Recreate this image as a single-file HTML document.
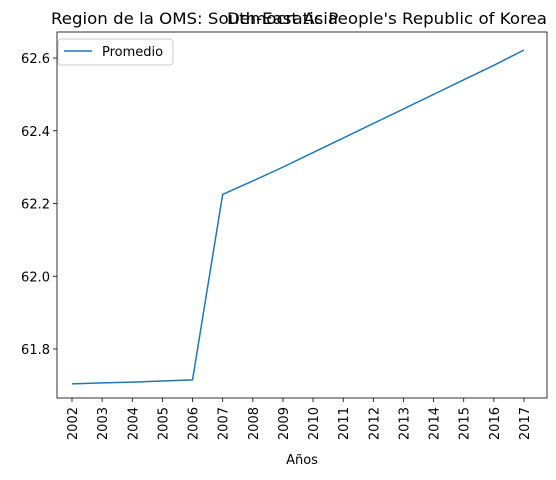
<!DOCTYPE html>
<html><head><meta charset="utf-8"><style>
body{margin:0;background:#fff;font-family:"DejaVu Sans","Liberation Sans",sans-serif}
svg text{font-family:"DejaVu Sans","Liberation Sans",sans-serif;fill:#000}
</style></head><body>
<svg id="chart" width="556" height="476" xmlns="http://www.w3.org/2000/svg">
<text x="51" y="24" font-size="16" textLength="287" lengthAdjust="spacingAndGlyphs">Region de la OMS: South-East Asia</text>
<text x="547" y="24" font-size="16" text-anchor="end" textLength="320" lengthAdjust="spacingAndGlyphs">Democratic People's Republic of Korea</text>
<g id="axes"></g>
<rect x="57" y="32" width="490" height="366" fill="none" stroke="#000" stroke-width="0.8"/>
<text x="302" y="464" font-size="13" text-anchor="middle">Años</text>
<g>
<rect x="58" y="39" width="115" height="26" rx="3" fill="#fff" stroke="#ccc"/>
<line x1="64" y1="51" x2="92" y2="51" stroke="#1f77b4" stroke-width="1.5"/>
<text x="102" y="56" font-size="13">Promedio</text>
</g>
</svg>
<script>
const years=[2002,2003,2004,2005,2006,2007,2008,2009,2010,2011,2012,2013,2014,2015,2016,2017];
const promedio=[61.704,61.707,61.709,61.712,61.715,62.225,62.262,62.300,62.340,62.380,62.420,62.460,62.500,62.540,62.580,62.622];
const yTicks=[61.8,62.0,62.2,62.4,62.6];
const ns="http://www.w3.org/2000/svg";
const g=document.getElementById('axes');
const xs=i=>72+i*(524-72)/15;
const ys=v=>349-(v-61.8)*(349-58)/0.8;
function mk(t,a){const e=document.createElementNS(ns,t);for(const k in a)e.setAttribute(k,a[k]);g.appendChild(e);return e;}
years.forEach((y,i)=>{
 const x=xs(i);
 const t=mk('line',{x1:x,y1:398,x2:x,y2:402,stroke:'#000','stroke-width':0.8});
 
 
 const l=mk('text',{x:x+5,y:407,'font-size':13,'text-anchor':'end',transform:`rotate(-90 ${x+5} 407)`});
 l.textContent=y;
 
 
});
yTicks.forEach(v=>{
 const y=ys(v);
 const t=mk('line',{x1:53,y1:y,x2:57,y2:y,stroke:'#000','stroke-width':0.8});
 
 
 const l=mk('text',{x:50,y:y+5,'font-size':13,'text-anchor':'end'});
 l.textContent=v.toFixed(1);
 
 
});
const p=mk('polyline',{points:promedio.map((v,i)=>xs(i)+','+ys(v)).join(' '),fill:'none',stroke:'#1f77b4','stroke-width':1.5});


</script>
</body></html>
